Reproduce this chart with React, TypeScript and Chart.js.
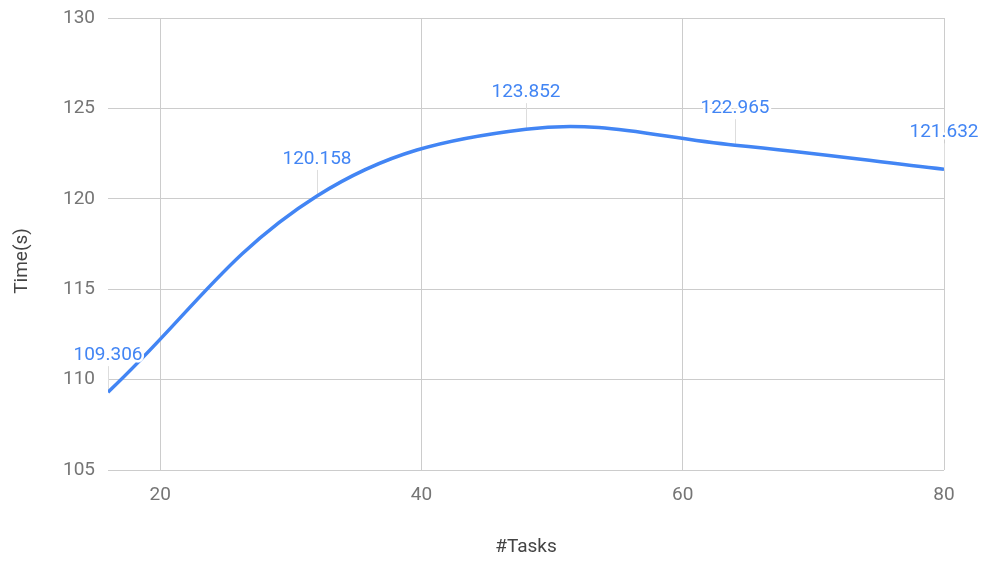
import React, { useEffect, useRef } from "react";
import { Chart, registerables } from "chart.js";

Chart.register(...registerables);

const tasks = [16, 32, 48, 64, 80];
const times = [109.306, 120.158, 123.852, 122.965, 121.632];
const xTicks = [20, 40, 60, 80];
const yMin = 105;
const yMax = 130;
const yStep = 5;
const xTitle = "#Tasks";
const yTitle = "Time(s)";

const BLUE = "#4285F4";
const FONT = "Roboto";

const labelPlugin = {
  id: "pointLabels",
  beforeDatasetsDraw(chart: any) {
    const ctx = chart.ctx;
    const meta = chart.getDatasetMeta(0);
    ctx.save();
    ctx.strokeStyle = "#dddddd";
    ctx.lineWidth = 1;
    meta.data.forEach((pt: any) => {
      const x = Math.round(pt.x) + 0.5;
      ctx.beginPath();
      ctx.moveTo(x, pt.y);
      ctx.lineTo(x, pt.y - 26);
      ctx.stroke();
    });
    ctx.restore();
  },
  afterDatasetsDraw(chart: any) {
    const ctx = chart.ctx;
    const meta = chart.getDatasetMeta(0);
    ctx.save();
    ctx.font = `19px ${FONT}`;
    ctx.textAlign = "center";
    ctx.textBaseline = "middle";
    meta.data.forEach((pt: any, i: number) => {
      const txt = String(times[i]);
      const y = pt.y - 37;
      ctx.lineJoin = "round";
      ctx.strokeStyle = "#ffffff";
      ctx.lineWidth = 5;
      ctx.strokeText(txt, pt.x, y);
      ctx.fillStyle = BLUE;
      ctx.fillText(txt, pt.x, y);
    });
    ctx.restore();
  },
  afterDraw(chart: any) {
    const ctx = chart.ctx;
    const area = chart.chartArea;
    ctx.save();
    ctx.font = `19px ${FONT}`;
    ctx.fillStyle = "#444444";
    ctx.textAlign = "center";
    ctx.textBaseline = "middle";
    ctx.fillText(xTitle, (area.left + area.right) / 2, 547);
    ctx.translate(22, 261);
    ctx.rotate(-Math.PI / 2);
    ctx.fillText(yTitle, 0, 0);
    ctx.restore();
  },
};

export default function App() {
  const ref = useRef<HTMLCanvasElement | null>(null);

  useEffect(() => {
    document.body.style.margin = "0";
    const canvas = ref.current;
    if (!canvas) return;
    const chart = new Chart(canvas, {
      type: "line",
      data: {
        datasets: [
          {
            data: tasks.map((t, i) => ({ x: t, y: times[i] })),
            borderColor: BLUE,
            borderWidth: 3.5,
            pointRadius: 0,
            tension: 0.38,
            fill: false,
          },
        ],
      },
      options: {
        animation: false,
        responsive: false,
        maintainAspectRatio: false,
        layout: { padding: { top: 18, right: 40, left: 0, bottom: 0 } },
        plugins: { legend: { display: false }, tooltip: { enabled: false } },
        scales: {
          x: {
            type: "linear",
            min: 16,
            max: 80,
            afterBuildTicks: (scale: any) => {
              scale.ticks = xTicks.map((v) => ({ value: v }));
            },
            afterFit: (scale: any) => {
              scale.height = 92;
              scale.paddingLeft = 0;
              scale.paddingRight = 0;
            },
            grid: { color: "#cccccc", drawTicks: false, lineWidth: 1 },
            border: { display: false },
            ticks: {
              padding: 14,
              color: "#757575",
              font: { family: FONT, size: 19 },
              maxRotation: 0,
            },
          },
          y: {
            min: yMin,
            max: yMax,
            afterFit: (scale: any) => {
              scale.width = 108;
              scale.paddingTop = 0;
              scale.paddingBottom = 0;
            },
            grid: { color: "#cccccc", drawTicks: false, lineWidth: 1 },
            border: { display: false },
            ticks: {
              stepSize: yStep,
              padding: 13,
              color: "#757575",
              font: { family: FONT, size: 19 },
            },
          },
        },
      },
      plugins: [labelPlugin],
    } as any);
    return () => chart.destroy();
  }, []);

  return <canvas ref={ref} width={984} height={562} style={{ display: "block" }} />;
}
